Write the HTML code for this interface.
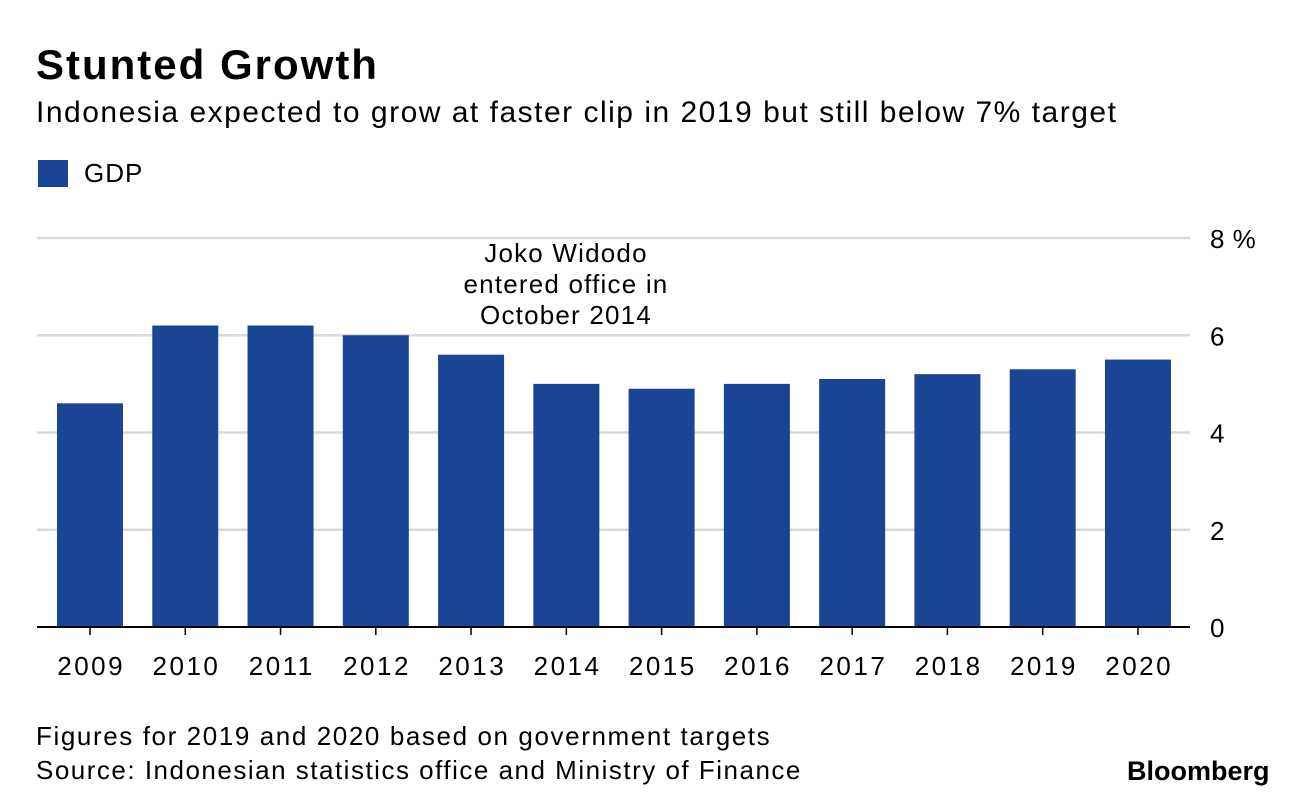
<!DOCTYPE html>
<html><head><meta charset="utf-8"><style>
body{margin:0;background:#fff;font-family:"Liberation Sans",Arial,sans-serif;color:#000}
#wrap{position:relative;width:1296px;height:802px;overflow:hidden}
.t{position:absolute;white-space:nowrap}
</style></head><body>
<div id="wrap">
<div class="t" style="left:36px;top:41px;font-size:42px;font-weight:bold;letter-spacing:2px">Stunted Growth</div>
<div class="t" style="left:36px;top:96px;font-size:30px;letter-spacing:1.5px">Indonesia expected to grow at faster clip in 2019 but still below 7% target</div>
<div>
<div class="t" style="left:38px;top:160px;width:30px;height:27px;background:#1a4494"></div>
<div class="t" style="left:84px;top:158px;font-size:26px;letter-spacing:1px">GDP</div>
</div>
<svg id="chart" width="1296" height="802" style="position:absolute;left:0;top:0"></svg>
<div class="t" style="left:36px;top:721px;font-size:26px;letter-spacing:1.6px">Figures for 2019 and 2020 based on government targets</div>
<div class="t" style="left:36px;top:755px;font-size:26px;letter-spacing:1.5px">Source: Indonesian statistics office and Ministry of Finance</div>
<div class="t" style="left:1127px;top:756px;font-size:27px;font-weight:bold;letter-spacing:0px">Bloomberg</div>
</div>
<script>
const categories=["2009","2010","2011","2012","2013","2014","2015","2016","2017","2018","2019","2020"];
const gdpValues=[4.6,6.2,6.2,6.0,5.6,5.0,4.9,5.0,5.1,5.2,5.3,5.5];
const yTicks=[0,2,4,6,8];
const yTickLabels=["0","2","4","6","8 %"];
const NS="http://www.w3.org/2000/svg";
const svg=document.getElementById('chart');
const y0=627,y8=238,xL=37,xR=1190,firstX=57,step=95.27,bw=66;
function yScale(v){return y0-(y0-y8)*v/8;}
function xScale(i){return firstX+i*step;}
function mk(tag,attrs){const e=document.createElementNS(NS,tag);for(const k in attrs)e.setAttribute(k,attrs[k]);svg.appendChild(e);return e;}
yTicks.forEach((v,i)=>{
  if(v!==0){const g=mk('line',{x1:xL,x2:xR,y1:yScale(v),y2:yScale(v),stroke:'#d9d9d9','stroke-width':2.5});
  
  }
  const t=mk('text',{x:1210,y:yScale(v)+10,'font-size':26,'letter-spacing':0.5,'font-family':'Liberation Sans, sans-serif'});
  t.textContent=yTickLabels[i];
  
  
});
gdpValues.forEach((v,i)=>{
  const r=mk('rect',{x:xScale(i),y:yScale(v),width:bw,height:y0-yScale(v),fill:'#1a4494'});
  
  
  const t=mk('text',{x:xScale(i)+bw/2+1.2,y:675,'font-size':26,'letter-spacing':2.5,'text-anchor':'middle','font-family':'Liberation Sans, sans-serif'});
  t.textContent=categories[i];
  
  
  const tk=mk('line',{x1:xScale(i)+bw/2,x2:xScale(i)+bw/2,y1:y0,y2:y0+8,stroke:'#000','stroke-width':1.5});
  
  
});
const ax=mk('line',{x1:xL,x2:xR,y1:y0,y2:y0,stroke:'#000','stroke-width':2});


["Joko Widodo","entered office in","October 2014"].forEach((s,i)=>{
  const t=mk('text',{x:566,y:262+i*31,'font-size':26,'letter-spacing':1.2,'text-anchor':'middle','font-family':'Liberation Sans, sans-serif'});
  t.textContent=s;
  
  
});
</script>
</body></html>
